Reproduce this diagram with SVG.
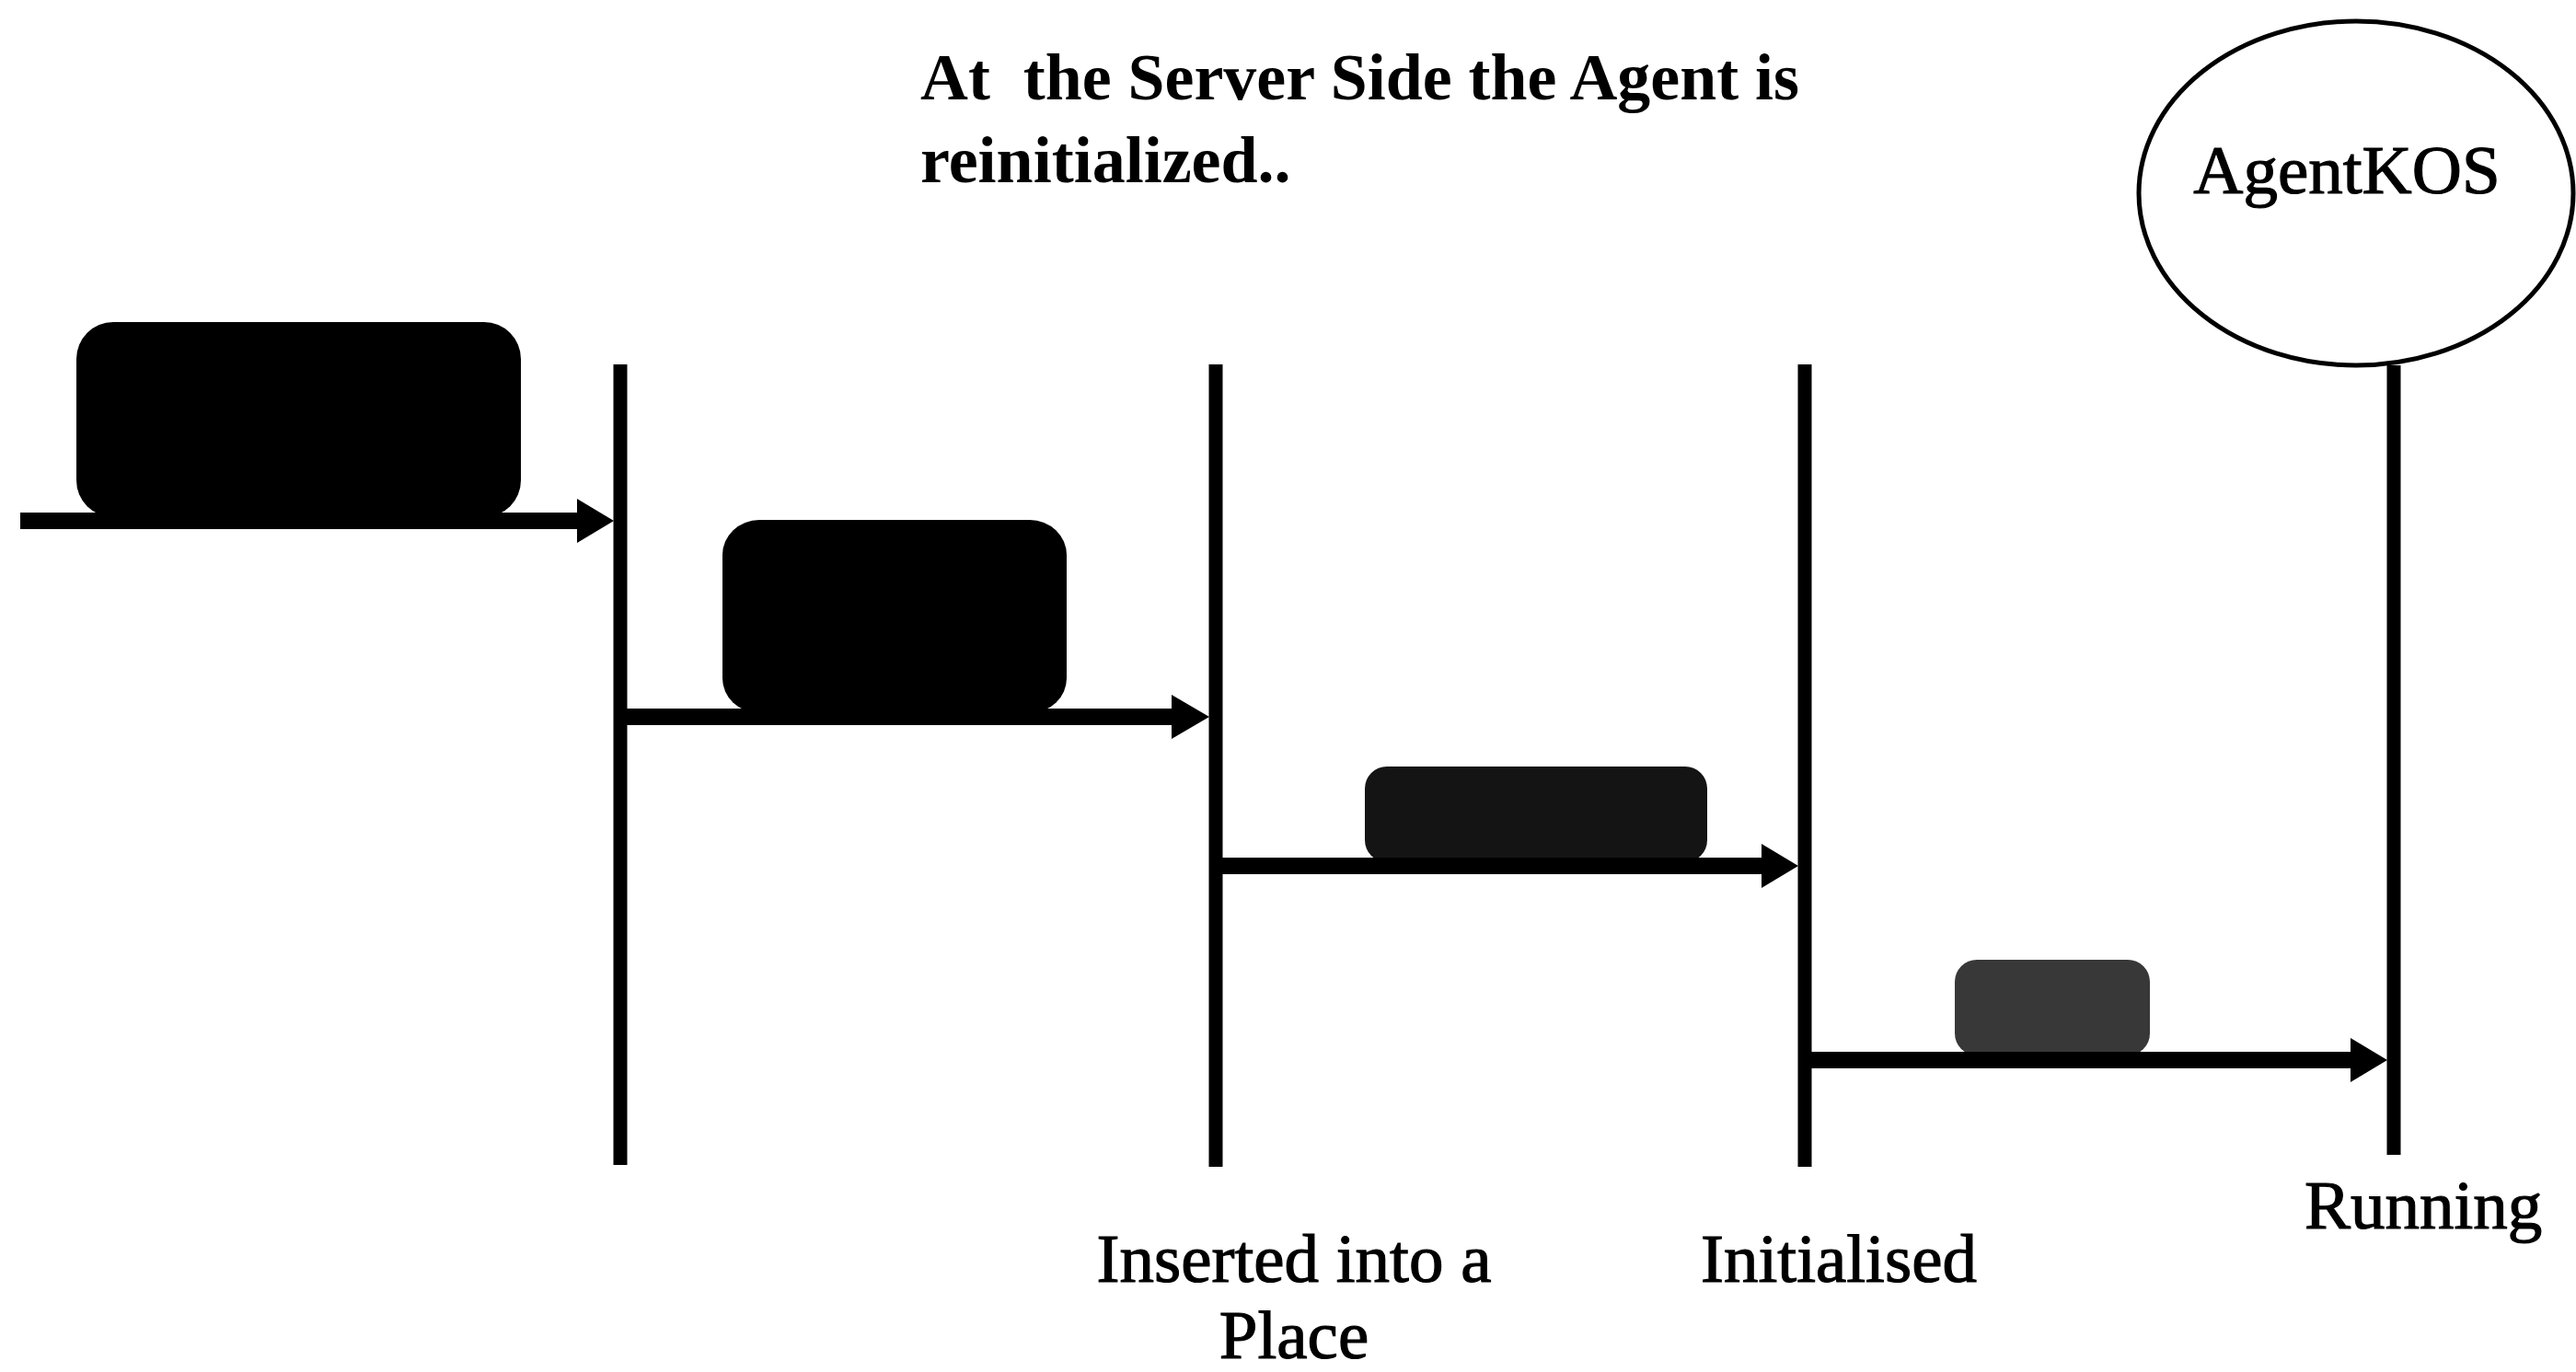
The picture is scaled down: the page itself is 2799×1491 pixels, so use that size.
<svg xmlns="http://www.w3.org/2000/svg" width="2799" height="1491" viewBox="0 0 2799 1491">
<style>
.t{font-family:"Liberation Serif","Times New Roman",serif;fill:#000}
.title{font-size:72px;font-weight:bold}
.lbl{font-size:75px;stroke:#000;stroke-width:1.2}
.life{stroke:#000;stroke-width:15;fill:none}
.conn{stroke:#000;stroke-width:18;fill:none}
.head{fill:#000}
</style>
<rect width="2799" height="1491" fill="#fff"/>
<g id="title">
<text class="t title" x="1000" y="108" textLength="955" lengthAdjust="spacingAndGlyphs" xml:space="preserve">At  the Server Side the Agent is</text>
<text class="t title" x="1000" y="198">reinitialized..</text>
</g>
<g id="agentkos">
<ellipse cx="2560" cy="210" rx="236" ry="187" fill="#fff" stroke="#000" stroke-width="5"/>
<text class="t" x="2550" y="210" font-size="75" stroke="#000" stroke-width="1.2" text-anchor="middle">AgentKOS</text>
</g>
<g id="lifeline1"><line class="life" x1="674" y1="396" x2="674" y2="1266"/></g>
<g id="lifeline2"><line class="life" x1="1321" y1="396" x2="1321" y2="1268"/>
<text class="t lbl" x="1406" y="1393" text-anchor="middle">Inserted into a</text>
<text class="t lbl" x="1406" y="1476" text-anchor="middle">Place</text></g>
<g id="lifeline3"><line class="life" x1="1961" y1="396" x2="1961" y2="1268"/>
<text class="t lbl" x="1848" y="1393">Initialised</text></g>
<g id="lifeline4"><line class="life" x1="2601" y1="397" x2="2601" y2="1255"/>
<text class="t lbl" x="2504" y="1335">Running</text></g>
<g id="box1"><rect x="83" y="350" width="483" height="212" rx="40" ry="40" fill="#000"/></g>
<g id="box2"><rect x="785" y="565" width="374" height="210" rx="40" ry="38" fill="#000"/></g>
<g id="box3"><rect x="1483" y="833" width="372" height="104" rx="24" ry="24" fill="#141414"/></g>
<g id="box4"><rect x="2124" y="1043" width="212" height="104" rx="24" ry="24" fill="#383838"/></g>
<g id="connectors">
<line class="conn" x1="22" y1="566" x2="640" y2="566"/>
<polygon class="head" points="627,542 667,566 627,590"/>
<line class="conn" x1="674" y1="779" x2="1285" y2="779"/>
<polygon class="head" points="1273,755 1314,779 1273,803"/>
<line class="conn" x1="1321" y1="941" x2="1925" y2="941"/>
<polygon class="head" points="1914,917 1954,941 1914,965"/>
<line class="conn" x1="1961" y1="1152" x2="2565" y2="1152"/>
<polygon class="head" points="2554,1128 2594,1152 2554,1176"/>
</g>
</svg>
